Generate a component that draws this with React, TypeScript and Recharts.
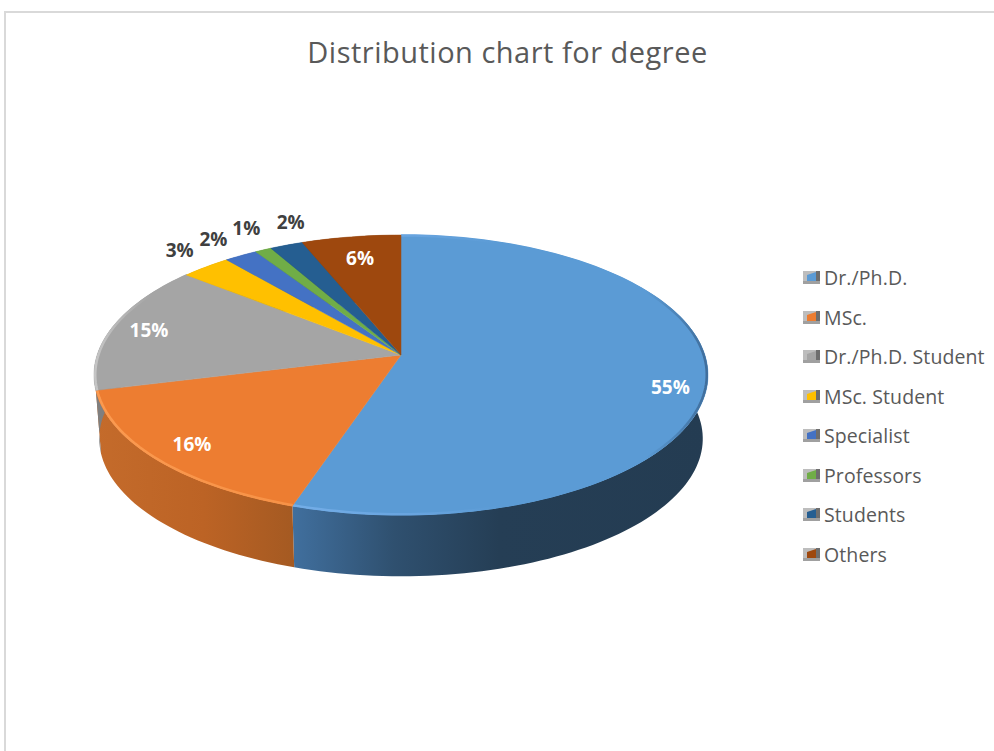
import { Legend, Pie, PieChart } from 'recharts';

const categories = ['Dr./Ph.D.', 'MSc.', 'Dr./Ph.D. Student', 'MSc. Student', 'Specialist', 'Professors', 'Students', 'Others'];
const shares = [55, 16, 15, 3, 2, 1, 2, 6];
const topColors = ['#5b9bd5', '#ed7d31', '#a5a5a5', '#ffc000', '#4472c4', '#70ad47', '#255e91', '#9e480e'];
const wallColors = ['url(#wallBlue)', 'url(#wallOrange)', '#7f7f7f', '#bf9000', '#335593', '#548235', '#1c466d', '#76360a'];
const rimColors = ['url(#rimBlue)', 'url(#rimOrange)', 'url(#rimGray)', 'none', 'none', 'none', 'none', 'none'];

// label placement along each slice's ray, plus the manual nudges Excel's "best fit" made
const labelRadius = [0.88, 0.864, 0.873, 1.15, 1.195, 1.14, 1.24, 0.8];
const labelNudgeX = [0, 0, 0, 0, 0, 0, 28, 0];
const labelNudgeY = [13, 0, 0, -5, 0, -9, 0, 0];

const pieData = categories.map((name, i) => ({ name, value: shares[i], fill: topColors[i] }));

// the tilted disc: a circle pushed through a perspective projection
const SQUASH_X = 0.9897;
const SQUASH_Y = 0.4466;
const PERSPECTIVE = 1 / 7;
const WALL_DROP = 64;
const WALL_SCALE = 0.983;

const project = (cx: number, cy: number, radius: number, theta: number, r = 1) => {
  const t = (theta * Math.PI) / 180;
  const d = 1 + PERSPECTIVE * r * Math.cos(t);
  return [cx + (radius * SQUASH_X * r * Math.sin(t)) / d, cy - (radius * SQUASH_Y * r * Math.cos(t)) / d];
};

const arcPoints = (p: any, r = 1) => {
  const from = 90 - p.startAngle;
  const to = 90 - p.endAngle;
  const steps = Math.max(2, Math.ceil(Math.abs(to - from) / 1.5));
  const out: number[][] = [];
  for (let i = 0; i <= steps; i++) {
    out.push(project(p.cx, p.cy, p.outerRadius, from + ((to - from) * i) / steps, r));
  }
  return out;
};

const toPath = (pts: number[][]) => pts.map((q, i) => `${i ? 'L' : 'M'}${q[0].toFixed(2)} ${q[1].toFixed(2)}`).join(' ');

const WallShape = (props: any) => {
  const upper = arcPoints(props);
  const lower = arcPoints({ ...props, cy: props.cy + WALL_DROP, outerRadius: props.outerRadius * WALL_SCALE }).reverse();
  return <path d={`${toPath(upper)} ${toPath(lower).replace('M', 'L')} Z`} fill={wallColors[props.index]} />;
};

const TopShape = (props: any) => {
  const arc = arcPoints(props);
  const rim = rimColors[props.index];
  return (
    <g>
      <path d={`M${props.cx} ${props.cy} ${toPath(arc).replace('M', 'L')} Z`} fill={props.fill} stroke={props.fill} strokeWidth={0.5} />
      {rim !== 'none' && <path d={toPath(arcPoints(props, 0.996))} fill="none" stroke={rim} strokeWidth={2.5} />}
    </g>
  );
};

const renderLabel = (props: any) => {
  const { cx, cy, outerRadius, midAngle, index, value } = props;
  const [x, y] = project(cx, cy, outerRadius, 90 - midAngle, labelRadius[index]);
  const outside = labelRadius[index] > 1;
  return (
    <text
      x={x + labelNudgeX[index]}
      y={y + labelNudgeY[index]}
      textAnchor="middle"
      dominantBaseline="central"
      fontFamily="'Open Sans', sans-serif"
      fontWeight={700}
      fontSize={19}
      fill={outside ? '#404040' : '#ffffff'}
    >
      {`${value}%`}
    </text>
  );
};

const LegendKey = ({ color }: { color: string }) => (
  <svg width={17} height={15} style={{ display: 'block', flex: 'none' }}>
    <rect x={0} y={1} width={17} height={13} fill="#bdbdbd" />
    <polygon points="4,5 13,2 13,11 4,11" fill={color} />
    <rect x={13} y={1} width={4} height={13} fill="#6e6e6e" />
    <rect x={0} y={11} width={17} height={3} fill="#a0a0a0" />
  </svg>
);

const renderLegend = () => (
  <div>
    {categories.map((name, i) => (
      <div key={name} style={{ display: 'flex', alignItems: 'center', height: 39.5, gap: 4 }}>
        <LegendKey color={topColors[i]} />
        <span style={{ fontFamily: "'Open Sans', sans-serif", fontSize: 19.5, letterSpacing: 0.1, color: '#595959', whiteSpace: 'nowrap' }}>{name}</span>
      </div>
    ))}
  </div>
);

export default function App() {
  return (
    <div style={{ position: 'absolute', left: 0, top: 0, width: 994, height: 751, overflow: 'hidden', background: '#fff' }}>
      <div style={{ position: 'absolute', left: 4, top: 11, right: 0, bottom: 0, borderTop: '2px solid #d9d9d9', borderLeft: '2px solid #d9d9d9' }} />
      <div
        style={{
          position: 'absolute',
          left: 0,
          width: 1015,
          top: 32,
          textAlign: 'center',
          fontFamily: "'Open Sans', sans-serif",
          fontSize: 29,
          letterSpacing: 0.5,
          color: '#595959',
          whiteSpace: 'nowrap',
        }}
      >
        Distribution chart for degree
      </div>
      <div style={{ position: 'absolute', left: 0, top: 0 }}>
        <PieChart width={994} height={751} margin={{ top: 0, right: 0, bottom: 0, left: 0 }}>
          <defs>
            <linearGradient id="wallBlue" gradientUnits="userSpaceOnUse" x1={290} y1={0} x2={708} y2={0}>
              <stop offset="0" stopColor="#41709f" />
              <stop offset="0.25" stopColor="#2f506f" />
              <stop offset="0.5" stopColor="#253e55" />
              <stop offset="1" stopColor="#243c52" />
            </linearGradient>
            <linearGradient id="wallOrange" gradientUnits="userSpaceOnUse" x1={96} y1={0} x2={292} y2={0}>
              <stop offset="0" stopColor="#c46b2b" />
              <stop offset="0.55" stopColor="#bc6325" />
              <stop offset="1" stopColor="#a55a22" />
            </linearGradient>
            <linearGradient id="rimBlue" gradientUnits="userSpaceOnUse" x1={290} y1={0} x2={708} y2={0}>
              <stop offset="0" stopColor="#74aee8" />
              <stop offset="0.3" stopColor="#68a4df" />
              <stop offset="0.5" stopColor="#5b9bd5" />
              <stop offset="0.85" stopColor="#5b9bd5" />
              <stop offset="1" stopColor="#3f6d9b" />
            </linearGradient>
            <linearGradient id="rimOrange" gradientUnits="userSpaceOnUse" x1={96} y1={0} x2={292} y2={0}>
              <stop offset="0" stopColor="#fb9a50" />
              <stop offset="1" stopColor="#f79246" />
            </linearGradient>
            <linearGradient id="rimGray" gradientUnits="userSpaceOnUse" x1={93} y1={0} x2={190} y2={0}>
              <stop offset="0" stopColor="#c6c6c6" />
              <stop offset="0.6" stopColor="#a5a5a5" />
              <stop offset="1" stopColor="#a5a5a5" />
            </linearGradient>
          </defs>
          <Pie
            data={pieData}
            dataKey="value"
            nameKey="name"
            cx={401}
            cy={355}
            outerRadius={307}
            startAngle={90}
            endAngle={-270}
            stroke="none"
            legendType="none"
            shape={WallShape}
            isAnimationActive={false}
          />
          <Pie
            data={pieData}
            dataKey="value"
            nameKey="name"
            cx={401}
            cy={355}
            outerRadius={307}
            startAngle={90}
            endAngle={-270}
            stroke="none"
            shape={TopShape}
            label={renderLabel}
            labelLine={false}
            isAnimationActive={false}
          />
          <Legend
            layout="vertical"
            align="right"
            verticalAlign="top"
            content={renderLegend}
            wrapperStyle={{ left: 803, top: 258, width: 190 }}
          />
        </PieChart>
      </div>
    </div>
  );
}
